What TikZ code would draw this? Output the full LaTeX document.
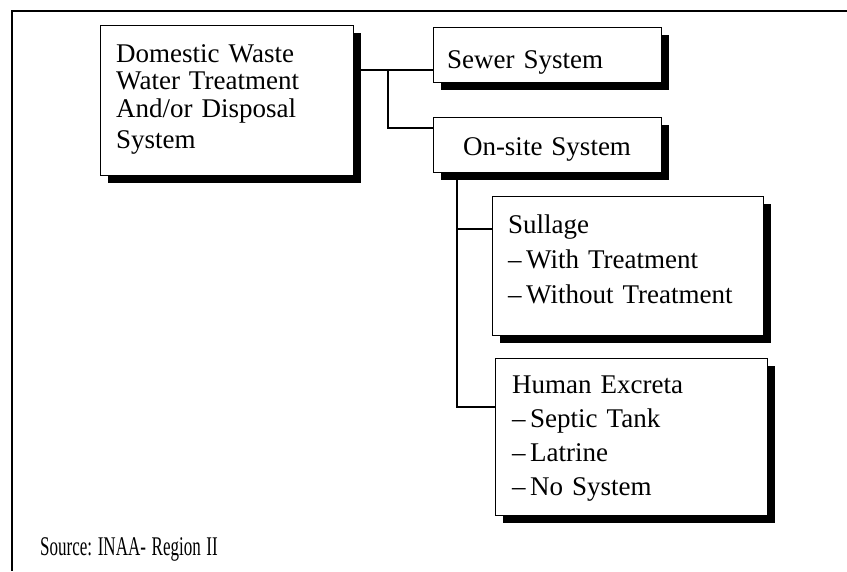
\documentclass[tikz,border=0pt]{standalone}
\usepackage{fontspec}
\setmainfont{Liberation Serif}
\usetikzlibrary{positioning,shadows}
\frenchspacing
\newcommand\boxfont{\fontsize{27}{27}\selectfont\spaceskip=5.5pt\relax}

\begin{document}
\begin{tikzpicture}[x=1pt,y=-1pt,
    box/.style={draw,fill=white,line width=1.2pt,anchor=north west,inner sep=0pt,
        drop shadow={shadow xshift=7pt,shadow yshift=-7pt,fill=black,opacity=1}},
    label/.style={anchor=base west,inner sep=0pt,align=left,text width=#1,
        font=\boxfont},
    link/.style={line width=1.3pt}]
    \useasboundingbox (0,0) rectangle (847,571);
    \draw[line width=1.8pt] (847,11) -- (12,11) -- (12,571);

    \node[box,minimum width=253pt,minimum height=150pt] (dom) at (100,25) {};
    \node[box,minimum width=228pt,minimum height=55pt] (sewer) at (433,27) {};
    \node[box,minimum width=228pt,minimum height=55pt] (onsite) at (433,117) {};
    \node[box,minimum width=271pt,minimum height=139pt] (sullage) at (492,196) {};
    \node[box,minimum width=272pt,minimum height=157pt] (excreta) at (495,358) {};

    \node[label=230pt] (domtxt) at (116,62)
        {Domestic Waste\\Water Treatment\\[1pt]And/or Disposal\\[4pt]System};
    \node[label=200pt] (sewertxt) at (447,68) {Sewer System};
    \node[label=200pt,anchor=base,align=center] (onsitetxt) at (547,155) {On-site System};
    \node[label=250pt] (sullagetxt) at (508,233)
        {Sullage\\[8pt]--\,With Treatment\\[8pt]--\,Without Treatment};
    \node[label=250pt] (excretatxt) at (512,393)
        {Human Excreta\\[7pt]--\,Septic Tank\\[7pt]--\,Latrine\\[7pt]--\,No System};
    \node[label=250pt] (source) at (40,555) {\scalebox{0.63}[1]{Source: INAA- Region II}};

    \coordinate (j1) at (388,70);
    \coordinate (j2) at (388,128);
    \coordinate (j3) at (457,229);
    \coordinate (j4) at (457,407);
    \draw[link] (dom.east |- j1) -- (sewer.west |- j1);
    \draw[link] (j1) -- (j2) -- (j2 -| onsite.west);
    \draw[link] (onsite.south -| j3) -- (j4) -- (j4 -| excreta.west);
    \draw[link] (j3) -- (j3 -| sullage.west);
\end{tikzpicture}
\end{document}
